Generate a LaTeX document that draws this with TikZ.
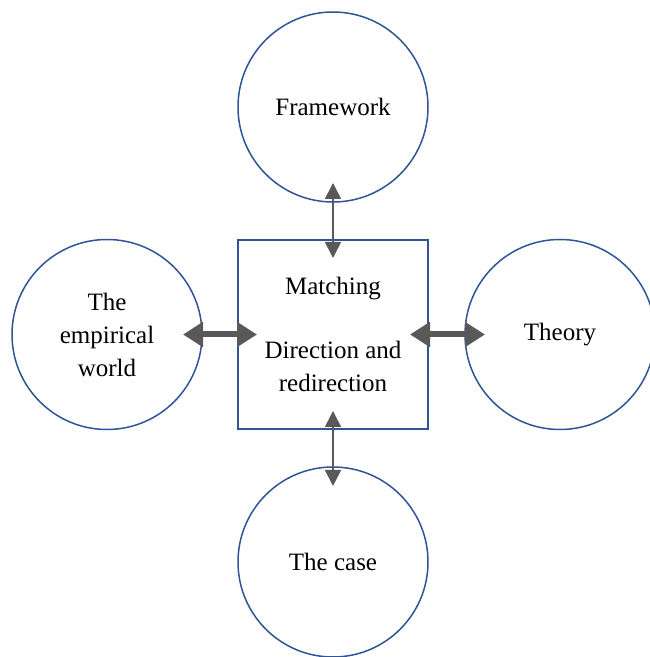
\documentclass[tikz,border=0pt]{standalone}
\usepackage{fontspec}
\setmainfont{Liberation Serif}
\usetikzlibrary{positioning, arrows.meta}
\definecolor{ringblue}{HTML}{2F5597}
\definecolor{arrgray}{HTML}{595959}

\begin{document}
\begin{tikzpicture}[
  font=\fontsize{25}{33}\selectfont,
  ring/.style={circle, draw=ringblue, line width=1.5pt, minimum size=190pt,
               inner sep=0pt, outer sep=0pt, align=center},
  hub/.style={draw=ringblue, line width=1.5pt, minimum width=190pt,
              minimum height=189pt, inner sep=0pt, outer sep=0pt, align=center},
  thinarr/.style={{Triangle[length=16pt,width=16pt]}-{Triangle[length=16pt,width=16pt]},
                  line width=1.6pt, draw=arrgray, fill=arrgray},
  thickarr/.style={{Triangle[length=20pt,width=24pt]}-{Triangle[length=20pt,width=24pt]},
                   line width=6pt, draw=arrgray, fill=arrgray},
]
\useasboundingbox (0,0) rectangle (650pt,657pt);
% ---- centre square ----
\node[hub] (match) at (333pt,322.5pt) {Matching\\[31pt]Direction and\\redirection};
% ---- surrounding circles ----
\node[ring, above=38pt of match] (frame) {Framework};
\node[ring, below=38pt of match] (case) {The case};
\node[ring, left=36pt of match] (world) {The\\empirical\\world};
\node[ring, right=37pt of match] (theory) {Theory};
% ---- arrows ----
\draw[thinarr, shorten <=-19pt, shorten >=-18pt] (frame.south) -- (match.north);
\draw[thinarr, shorten <=-18pt, shorten >=-19pt] (match.south) -- (case.north);
\draw[thickarr, shorten <=-19pt, shorten >=-19pt] (world.east) -- (match.west);
\draw[thickarr, shorten <=-18pt, shorten >=-20pt] (match.east) -- (theory.west);
\end{tikzpicture}
\end{document}
